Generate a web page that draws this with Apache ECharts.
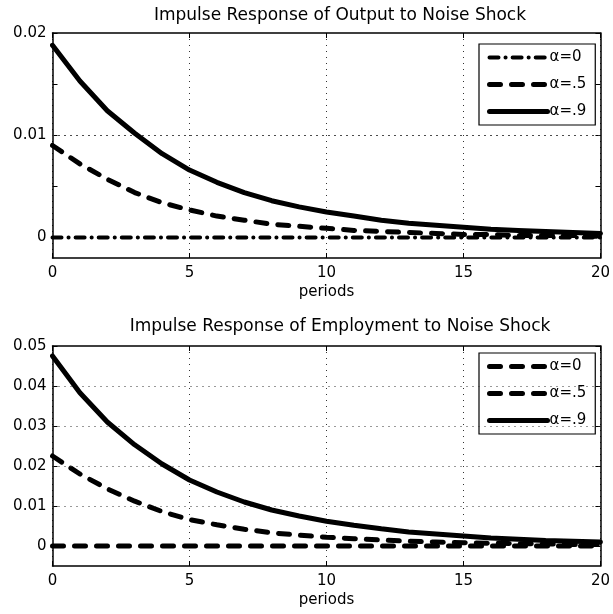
<!DOCTYPE html>
<html>
<head>
<meta charset="utf-8">
<script src="https://cdn.jsdelivr.net/npm/echarts@6/dist/echarts.min.js"></script>
<style>
  html, body { margin: 0; padding: 0; background: #fff; }
  #chart { width: 613px; height: 614px; }
</style>
</head>
<body>
<div id="chart"></div>
<script>
// Impulse responses to a noise shock, periods 0..20
const periods = [0,1,2,3,4,5,6,7,8,9,10,11,12,13,14,15,16,17,18,19,20];
const alphaLabels = ['α=0', 'α=.5', 'α=.9'];

// Output response
const outputA0  = [0,0,0,0,0,0,0,0,0,0,0,0,0,0,0,0,0,0,0,0,0];
const outputA05 = [0.0090,0.0072,0.0057,0.0044,0.0034,0.0027,0.0021,0.0017,0.0013,0.0011,0.0009,
                   0.0007,0.0006,0.0005,0.0004,0.0003,0.0003,0.0002,0.0002,0.0002,0.0001];
const outputA09 = [0.0188,0.0153,0.0124,0.0102,0.0082,0.0066,0.0054,0.0044,0.0036,0.0030,0.0025,
                   0.0021,0.0017,0.0014,0.0012,0.0010,0.0008,0.0007,0.0006,0.0005,0.0004];

// Employment response
const emplA0  = [0,0,0,0,0,0,0,0,0,0,0,0,0,0,0,0,0,0,0,0,0];
const emplA05 = [0.0225,0.0180,0.0143,0.0112,0.0086,0.0066,0.0053,0.0042,0.0033,0.0027,0.0022,
                 0.0018,0.0015,0.0012,0.0010,0.0008,0.0007,0.0006,0.0005,0.0004,0.0004];
const emplA09 = [0.0475,0.0383,0.0310,0.0253,0.0205,0.0165,0.0135,0.0110,0.0090,0.0075,0.0062,
                 0.0052,0.0043,0.0035,0.0030,0.0025,0.0020,0.0017,0.0014,0.0012,0.0010];

// Axis ticks
const outTickValues = [0, 0.005, 0.01, 0.015, 0.02];
const outLabelValues = [0, 0.01, 0.02];
const empTickValues = [0, 0.01, 0.02, 0.03, 0.04, 0.05];
const empLabelValues = [0, 0.01, 0.02, 0.03, 0.04, 0.05];

const FONT = 'DejaVu Sans';
const pair = (xs, ys) => xs.map((x, i) => [x, ys[i]]);
const fmtY = v => (Math.abs(v) < 1e-12 ? '0' : v.toFixed(2));

const DASH_DOT = { width: 4, type: [9, 7, 0.1, 7], cap: 'round' };
const DASHED   = { width: 5, type: [11, 11], cap: 'round' };
const SOLID    = { width: 5, type: 'solid', cap: 'round' };
const outputStyles = [DASH_DOT, DASHED, SOLID];
const emplStyles   = [DASHED, DASHED, SOLID];

function xAxes(gridIndex) {
  const base = {
    type: 'value', gridIndex, min: 0, max: 20, interval: 5,
    axisLine: { show: true, onZero: false, lineStyle: { color: '#000', width: 1.5 } },
    axisTick: { show: true, inside: true, length: 5, lineStyle: { color: '#000', width: 1 } }
  };
  return [
    Object.assign({}, base, {
      position: 'bottom',
      name: 'periods', nameLocation: 'middle', nameGap: 27,
      nameTextStyle: { fontFamily: FONT, fontSize: 15, color: '#000' },
      axisLabel: { show: true, margin: 8, fontFamily: FONT, fontSize: 15, color: '#000' },
      splitLine: { show: true, lineStyle: { type: [1, 5], color: '#333', width: 1 } }
    }),
    Object.assign({}, base, {
      position: 'top',
      axisLabel: { show: false },
      splitLine: { show: false }
    })
  ];
}

function yAxes(gridIndex, min, max, ticks, labels) {
  const base = {
    type: 'value', gridIndex, min, max,
    axisLine: { show: true, onZero: false, lineStyle: { color: '#000', width: 1.5 } },
    axisTick: { show: true, inside: true, length: 5, customValues: ticks, lineStyle: { color: '#000', width: 1 } },
    splitLine: { show: false }
  };
  return [
    Object.assign({}, base, {
      position: 'left',
      axisLabel: { show: true, customValues: labels, formatter: fmtY, margin: 6,
                   fontFamily: FONT, fontSize: 15, color: '#000' }
    }),
    Object.assign({}, base, {
      position: 'right',
      axisLabel: { show: false }
    })
  ];
}

// dotted horizontal grid lines at the inner tick values
function gridLines(xIdx, yIdx, yValues, maxY) {
  return {
    type: 'line', name: 'grid' + yIdx, xAxisIndex: xIdx, yAxisIndex: yIdx,
    data: [], silent: true, z: 1,
    markLine: {
      silent: true, symbol: 'none', animation: false,
      label: { show: false },
      lineStyle: { type: [1, 5], color: '#333', width: 1 },
      data: yValues.filter(v => v !== 0 && v < maxY - 1e-9).map(v => ({ yAxis: v }))
    }
  };
}

function lineSeries(prefix, xIdx, yIdx, arrays, styles) {
  return arrays.map((arr, k) => ({
    type: 'line', name: prefix + ' ' + alphaLabels[k],
    xAxisIndex: xIdx, yAxisIndex: yIdx,
    data: pair(periods, arr),
    showSymbol: false, symbol: 'none', smooth: false, animation: false, z: 3 + k,
    lineStyle: { color: '#000', width: styles[k].width, type: styles[k].type, cap: styles[k].cap },
    itemStyle: { color: '#000' }
  }));
}

function legend(prefix, top) {
  return {
    orient: 'vertical', left: 479, top,
    data: alphaLabels.map(a => prefix + ' ' + a),
    formatter: name => name.split(' ')[1],
    backgroundColor: '#fff', borderColor: '#000', borderWidth: 1.2,
    padding: [6, 9, 6, 8], itemWidth: 58, itemHeight: 14, itemGap: 12,
    selectedMode: false,
    itemStyle: { opacity: 0 },
    lineStyle: { width: 'inherit', type: 'inherit', cap: 'inherit', color: '#000' },
    textStyle: { fontFamily: FONT, fontSize: 15, color: '#000', padding: [0, 0, 0, -3] }
  };
}

const chart = echarts.init(document.getElementById('chart'), null, { renderer: 'canvas' });
chart.setOption({
  animation: false,
  backgroundColor: '#fff',
  graphic: [
    { type: 'text', x: 340, y: 16, style: { text: 'Impulse Response of Output to Noise Shock',
      font: '17px "DejaVu Sans"', fill: '#000', textAlign: 'center', textVerticalAlign: 'middle' } },
    { type: 'text', x: 340, y: 327, style: { text: 'Impulse Response of Employment to Noise Shock',
      font: '17px "DejaVu Sans"', fill: '#000', textAlign: 'center', textVerticalAlign: 'middle' } }
  ],
  grid: [
    { left: 52.5, top: 33, width: 549, height: 225, containLabel: false },
    { left: 52.5, top: 346, width: 549, height: 220, containLabel: false }
  ],
  xAxis: [...xAxes(0), ...xAxes(1)],
  yAxis: [...yAxes(0, -0.002, 0.02, outTickValues, outLabelValues),
          ...yAxes(1, -0.005, 0.05, empTickValues, empLabelValues)],
  legend: [legend('output', 44), legend('employment', 353)],
  series: [
    gridLines(0, 0, outTickValues, 0.02),
    gridLines(2, 2, empTickValues, 0.05),
    ...lineSeries('output', 0, 0, [outputA0, outputA05, outputA09], outputStyles),
    ...lineSeries('employment', 2, 2, [emplA0, emplA05, emplA09], emplStyles)
  ]
});
</script>
</body>
</html>
